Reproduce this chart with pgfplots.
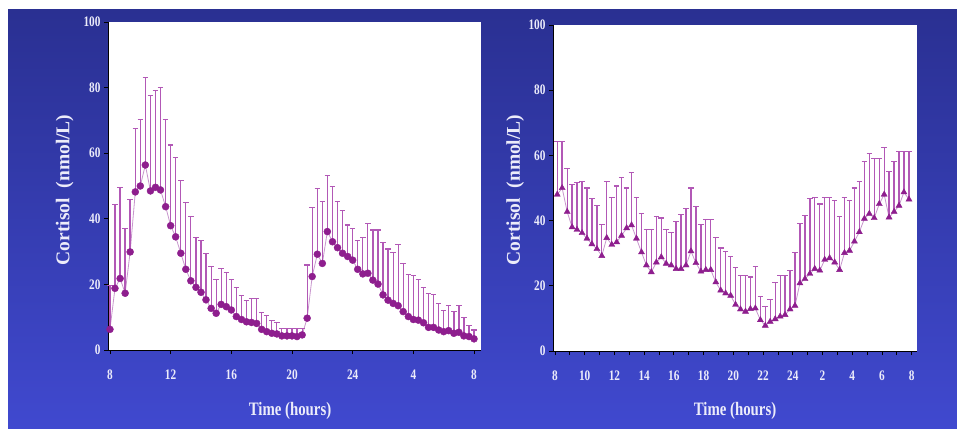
\documentclass[border=0pt]{standalone}
\usepackage{fontspec}
\setmainfont{Liberation Serif}
\newfontfamily\condfont{Liberation Serif}[FakeStretch=0.78]
\usepackage{pgfplots}
\usepackage{pgfplotstable}
\pgfplotsset{compat=1.18}
\definecolor{bgtop}{RGB}{42,48,146}
\definecolor{bgbot}{RGB}{64,73,207}
\definecolor{mk}{RGB}{142,30,142}
\definecolor{eb}{RGB}{178,88,182}
\definecolor{ln}{RGB}{200,150,205}
\definecolor{lab}{RGB}{236,236,250}

\pgfplotstableread{
x y e
8.00 6.3 13.3
8.33 18.8 25.6
8.67 21.8 27.7
9.00 17.3 19.8
9.33 29.9 16.0
9.67 48.2 19.2
10.00 50.0 20.3
10.33 56.4 26.6
10.67 48.5 29.2
11.00 49.6 29.4
11.33 48.8 31.2
11.67 43.7 26.6
12.00 37.9 24.6
12.33 34.5 24.1
12.67 29.5 22.3
13.00 24.6 20.4
13.33 21.1 19.6
13.67 19.1 15.1
14.00 17.6 15.7
14.33 15.3 14.2
14.67 12.7 12.7
15.00 11.2 10.3
15.33 13.9 11.0
15.67 13.2 10.5
16.00 12.2 9.3
16.33 10.2 8.9
16.67 9.3 7.4
17.00 8.6 6.6
17.33 8.4 7.3
17.67 8.1 7.6
18.00 6.3 5.1
18.33 5.6 4.8
18.67 5.1 3.8
19.00 4.9 3.5
19.33 4.3 2.3
19.67 4.3 2.3
20.00 4.3 2.3
20.33 4.1 2.5
20.67 4.6 2.0
21.00 9.7 16.2
21.33 22.4 21.0
21.67 29.2 20.1
22.00 26.4 19.0
22.33 36.1 17.2
22.67 33.0 16.8
23.00 31.2 14.2
23.33 29.5 13.0
23.67 28.5 9.6
24.00 27.4 9.7
24.33 24.6 8.7
24.67 23.2 11.0
25.00 23.4 15.2
25.33 21.3 15.3
25.67 20.1 16.5
26.00 16.8 16.0
26.33 15.2 15.6
26.67 14.2 15.6
27.00 13.5 18.8
27.33 11.7 14.7
27.67 10.2 12.9
28.00 9.3 13.3
28.33 9.1 12.4
28.67 8.3 10.8
29.00 6.9 10.4
29.33 6.9 9.9
29.67 6.1 8.1
30.00 5.6 6.4
30.33 5.9 7.8
30.67 5.1 6.6
31.00 5.4 8.3
31.33 4.3 5.7
31.67 4.1 3.5
32.00 3.4 2.7
}\leftdata

\pgfplotstableread{
x y e
8.15 48.0 16.4
8.48 50.0 14.4
8.82 42.7 13.3
9.15 38.0 13.1
9.48 37.2 14.4
9.82 36.2 15.9
10.15 34.5 15.5
10.48 32.8 13.9
10.82 31.3 13.4
11.15 29.2 9.6
11.48 34.7 17.4
11.82 32.6 14.6
12.15 33.4 17.2
12.48 35.4 17.7
12.82 37.7 12.3
13.15 38.6 16.1
13.48 34.5 12.7
13.82 30.3 11.9
14.15 26.3 11.1
14.48 24.2 13.2
14.82 27.2 14.1
15.15 28.8 12.0
15.48 26.8 10.6
15.82 26.3 10.1
16.15 25.2 14.6
16.48 25.2 16.6
16.82 26.3 17.4
17.15 30.6 19.4
17.48 27.0 17.2
17.82 24.4 14.4
18.15 24.9 15.4
18.48 24.9 15.4
18.82 21.1 13.8
19.15 18.6 13.0
19.48 17.7 12.7
19.82 17.0 12.0
20.15 14.2 11.4
20.48 12.8 10.4
20.82 12.1 11.0
21.15 12.9 9.8
21.48 13.1 12.8
21.82 9.5 7.2
22.15 7.8 5.8
22.48 9.0 6.7
22.82 9.8 11.3
23.15 10.6 12.6
23.48 11.1 12.1
23.82 12.8 11.8
24.15 13.9 16.2
24.48 20.8 18.2
24.82 22.1 19.5
25.15 23.7 23.0
25.48 25.2 22.0
25.82 24.7 20.4
26.15 28.0 19.2
26.48 28.5 18.7
26.82 27.2 19.1
27.15 24.9 16.4
27.48 30.1 17.1
27.82 30.8 15.5
28.15 33.6 16.4
28.48 36.5 15.6
28.82 40.6 17.5
29.15 42.1 18.4
29.48 40.8 18.2
29.82 45.1 13.9
30.15 48.0 14.4
30.48 41.0 14.0
30.82 42.7 15.4
31.15 44.6 16.7
31.48 48.7 12.6
31.82 46.5 14.8
}\rightdata

\pgfplotsset{
  cortaxis/.style={
    scale only axis,
    anchor=south west,
    axis background/.style={fill=white},
    axis lines*=left,
    axis line style={black, line width=0.9pt},
    ymin=0, ymax=100,
    ytick={0,20,...,100},
    tick align=outside,
    major tick length=4pt,
    minor tick length=4pt,
    tick style={black, line width=0.8pt},
    /pgf/number format/assume math mode=true,
    ticklabel style={font=\condfont\bfseries\fontsize{14.5}{14.5}\selectfont, text=lab},
    xticklabel style={yshift=-12pt},
    label style={font=\bfseries, text=lab},
    xlabel style={font=\condfont\bfseries\fontsize{19}{19}\selectfont, anchor=center},
    ylabel style={font=\bfseries\fontsize{19.5}{19.5}\selectfont, anchor=center},
    clip=false,
  },
  errs/.style={
    error bars/.cd, y dir=plus, y explicit,
    error bar style={eb, line width=1.3pt},
    error mark options={eb, line width=1.1pt, mark size=2.8pt, rotate=90},
  },
}

\begin{document}
\begin{tikzpicture}
\fill[white] (0pt,0pt) rectangle (957pt,428pt);
\shade[top color=bgtop, bottom color=bgbot] (8pt,0pt) rectangle (957pt,418pt);

\begin{axis}[cortaxis,
  at={(108pt,78pt)}, width=373pt, height=328pt,
  xmin=7.87, xmax=32.46,
  xtick={8,12,16,20,24,28,32},
  xticklabels={8,12,16,20,24,4,8},
  xlabel={Time (hours)},
  ylabel={Cortisol\ \ (nmol/L)},
  xlabel style={at={(axis description cs:0.488,-0.186)}},
  ylabel style={at={(axis description cs:-0.116,0.488)}},
]
\addplot[draw=ln, line width=0.8pt, mark=*, mark size=3.5pt,
  mark options={fill=mk, draw=mk, line width=0.4pt}, errs]
  table[x=x, y=y, y error=e] {\leftdata};
\end{axis}

\begin{axis}[cortaxis,
  at={(553pt,77pt)}, width=364pt, height=326pt,
  xmin=7.865, xmax=32.36,
  xtick={8,10,...,32},
  minor xtick={9,11,...,31},
  xticklabels={8,10,12,14,16,18,20,22,24,2,4,6,8},
  xlabel={Time (hours)},
  ylabel={Cortisol\ \ (nmol/L)},
  xlabel style={at={(axis description cs:0.5,-0.184)}},
  ylabel style={at={(axis description cs:-0.104,0.494)}},
]
\addplot[draw=ln, line width=0.8pt, mark=triangle*, mark size=3.5pt,
  mark options={fill=mk, draw=mk, line width=0.4pt}, errs]
  table[x=x, y=y, y error=e] {\rightdata};
\end{axis}
\end{tikzpicture}
\end{document}
